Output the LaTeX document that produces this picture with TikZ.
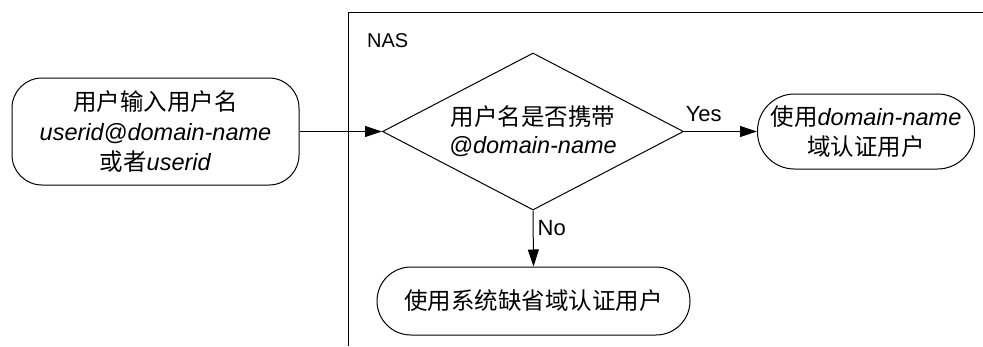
\documentclass[tikz,border=0pt]{standalone}
\usepackage{fontspec}
\setmainfont{Liberation Sans}
\newfontfamily\cjk{Noto Sans CJK SC}
\usetikzlibrary{shapes.geometric,arrows.meta}
\tikzset{
  box/.style={draw, line width=1pt, rounded corners=#1, align=center, inner sep=0pt,
    font=\fontsize{23.5}{30}\selectfont},
  dec/.style={draw, diamond, line width=1pt, align=center, inner sep=0pt, shape aspect=1.917,
    minimum width=301pt, minimum height=157pt, font=\fontsize{23.5}{28}\selectfont},
  arr/.style={line width=1pt, -{Triangle[length=17pt,width=11pt]}},
  lbl/.style={inner sep=0pt, font=\fontsize{22}{26}\selectfont},
  frame/.style={line width=1pt}
}
\begin{document}
\begin{tikzpicture}[x=1pt,y=-1pt]
\useasboundingbox (0,0) rectangle (983,346);
% NAS frame
\coordinate (fb) at (348,346);
\coordinate (ftl) at (348,12);
\coordinate (ftr) at (983,12);
\draw[frame] (fb) -- (ftl) -- (ftr);
\node[lbl, font=\fontsize{20}{24}\selectfont, anchor=west] (nas) at (367,41) {NAS};
% nodes
\node[box=30pt, minimum width=287pt, minimum height=107pt] (lbox) at (155.5,131.5)
  {{\cjk 用户输入用户名}\\\textit{userid@domain-name}\\{\cjk 或者}\textit{userid}};
\node[dec] (dia) at (533,131.5) {{\cjk 用户名是否携带}\\\textit{@domain-name}};
\node[box=37pt, minimum width=217pt, minimum height=75pt] (rbox) at (866,131.5)
  {{\cjk 使用}\textit{domain-name}\\{\cjk 域认证用户}};
\node[box=34pt, minimum width=313pt, minimum height=68pt] (bbox) at (533.5,301)
  {\cjk 使用系统缺省域认证用户};
% connectors
\draw[arr] (lbox.east) -- (dia.west);
\draw[arr] (dia.east) -- node[lbl, pos=0.27, above=9pt] {Yes} (rbox.west);
\draw[arr] (dia.south) -- node[lbl, pos=0.32, right=4pt] {No} (bbox.north);
\end{tikzpicture}
\end{document}
